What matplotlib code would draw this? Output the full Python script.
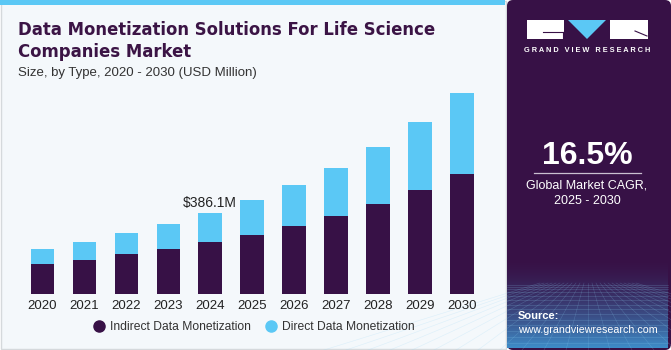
import matplotlib.pyplot as plt
import numpy as np
from matplotlib.patches import Rectangle, FancyBboxPatch, Polygon
from matplotlib.lines import Line2D

# data (USD Million)
years = ["2020", "2021", "2022", "2023", "2024", "2025", "2026", "2027", "2028", "2029", "2030"]
indirect = [141, 160, 188, 214, 245, 280, 323, 370, 427, 494, 571]
direct = [71, 87, 102, 120, 141.1, 165, 193, 230, 272, 321, 383]
label_year = "2024"
label_text = "$386.1M"

dark = "#371146"
blue = "#5BC8F5"
W, H = 671, 350

fig = plt.figure(figsize=(6.71, 3.5), dpi=100)
fig.patch.set_facecolor("white")

# background layer in pixel coordinates
bg = fig.add_axes([0, 0, 1, 1])
bg.set_xlim(0, W)
bg.set_ylim(H, 0)
bg.axis("off")

bg.add_patch(Rectangle((0.5, 0.5), 505, 348, facecolor="#F4F8FB", edgecolor="#D5D9DC", lw=1))
bg.add_patch(Rectangle((0, 0), 505, 5, facecolor=blue, edgecolor="none"))

# right panel
bg.add_patch(FancyBboxPatch((507, 0), 164, 350, boxstyle="round,pad=0,rounding_size=6",
                            facecolor=dark, edgecolor="none"))
grad = np.linspace(0, 1, 100)[:, None]
cols = np.zeros((100, 1, 4))
c0 = np.array([0x37, 0x11, 0x46]) / 255
c1 = np.array([0x3E, 0x8C, 0xC8]) / 255
cols[:, 0, :3] = c0 + (c1 - c0) * grad ** 1.6
cols[:, 0, 3] = 1
bg.imshow(cols, extent=(507, 668, 348, 258), aspect="auto", zorder=1)
for k in range(14):
    yy = 285 + (k ** 1.4) * 1.6
    bg.plot([507, 668], [yy, yy], color="#8FD3F5", lw=0.4, alpha=0.3, zorder=2)
for k in range(-12, 13):
    bg.plot([588 + k * 4, 588 + k * 22], [283, 350], color="#8FD3F5", lw=0.4, alpha=0.25, zorder=2)

# logo
bg.add_patch(Rectangle((527, 20), 37, 19, facecolor="white", edgecolor="none", zorder=3))
bg.plot([543, 563], [32, 32], color=dark, lw=0.8, zorder=4)
bg.plot([563, 563], [32, 39], color=dark, lw=0.8, zorder=4)
bg.add_patch(Polygon([[568, 20], [606, 20], [587, 39]], closed=True, facecolor=blue, edgecolor="none", zorder=3))
bg.add_patch(Rectangle((610, 20), 38, 19, facecolor="white", edgecolor="none", zorder=3))
bg.plot([635, 647], [31, 36], color=dark, lw=0.8, zorder=4)
bg.text(587.5, 51, "G R A N D   V I E W   R E S E A R C H", color="white", fontsize=5.3, ha="center",
        va="center", family="Liberation Sans", fontweight="bold", zorder=4)

bg.text(587, 156, "16.5%", color="white", fontsize=23, ha="center", va="center",
        family="Liberation Sans", fontweight="bold", zorder=4)
bg.plot([534, 641], [173, 173], color="#C9BFD0", lw=0.9, zorder=4)
bg.text(587, 186, "Global Market CAGR,", color="white", fontsize=9, ha="center", va="center",
        family="Liberation Sans", zorder=4)
bg.text(587, 201, "2025 - 2030", color="white", fontsize=9, ha="center", va="center",
        family="Liberation Sans", zorder=4)
bg.text(518, 316, "Source:", color="white", fontsize=8, ha="left", va="center",
        family="Liberation Sans", fontweight="bold", zorder=4)
bg.text(518, 330, "www.grandviewresearch.com", color="white", fontsize=7.7, ha="left", va="center",
        family="Liberation Sans", zorder=4)

# titles
bg.text(18, 30, "Data Monetization Solutions For Life Science", color="#3B1445", fontsize=11.9,
        fontweight="heavy", family="DejaVu Sans", ha="left", va="center")
bg.text(18, 52, "Companies Market", color="#3B1445", fontsize=11.9,
        fontweight="heavy", family="DejaVu Sans", ha="left", va="center")
bg.text(18, 73, "Size, by Type, 2020 - 2030 (USD Million)", color="#333333", fontsize=9.5,
        family="Liberation Sans", ha="left", va="center")

# chart
base_px, top_px = 294, 80
ax = fig.add_axes([21.3 / W, (H - base_px) / H, 461.6 / W, (base_px - top_px) / H])
ax.set_facecolor("none")
x = np.arange(len(years))
ax.bar(x, indirect, width=0.555, color=dark)
ax.bar(x, direct, width=0.555, bottom=indirect, color=blue)
ax.set_xlim(-0.5, len(years) - 0.5)
ax.set_ylim(0, (base_px - top_px) * 4.747)
for s in ax.spines.values():
    s.set_visible(False)
ax.set_yticks([])
ax.set_xticks(x)
ax.set_xticklabels(years, fontsize=9.5, family="Liberation Sans", color="#222222")
ax.tick_params(axis="x", length=0, pad=4)

i = years.index(label_year)
ax.text(i, indirect[i] + direct[i] + 14, label_text, ha="center", va="bottom", fontsize=10,
        family="Liberation Sans", color="#222222")

handles = [Line2D([], [], marker="o", linestyle="none", markersize=8, color=dark),
           Line2D([], [], marker="o", linestyle="none", markersize=8, color=blue)]
leg = ax.legend(handles, ["Indirect Data Monetization", "Direct Data Monetization"],
                loc="center", bbox_to_anchor=(0.505, -0.155), ncol=2, frameon=False,
                handlelength=0.8, columnspacing=1.3, handletextpad=0.5,
                prop={"family": "Liberation Sans", "size": 8.7})
plt.setp(leg.get_texts(), color="#333333")

fig.savefig("out.png", dpi=100)
